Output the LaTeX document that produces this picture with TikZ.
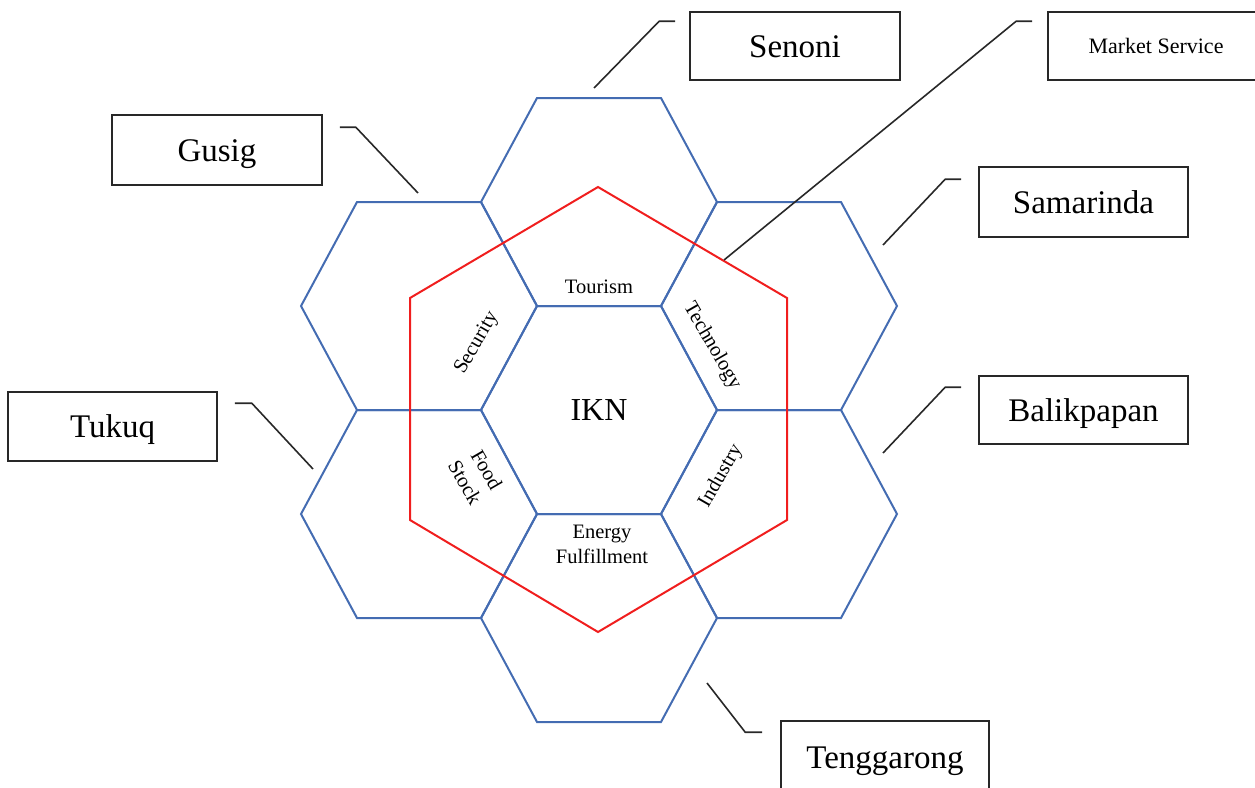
\documentclass[tikz,border=0pt]{standalone}
\usepackage{fontspec}
\setmainfont{Liberation Serif}
\definecolor{hexblue}{RGB}{68,108,178}
\definecolor{hexred}{RGB}{240,30,30}
\definecolor{boxline}{RGB}{40,40,40}
\begin{document}
\begin{tikzpicture}[x=1pt,y=-1pt,
  hexline/.style={draw=hexblue, line width=2pt, line join=miter},
  redline/.style={draw=hexred, line width=2pt, line join=miter},
  placebox/.style={draw=boxline, line width=1.6pt, inner sep=0pt, minimum height=69pt,
    text height=22pt, text depth=0pt, font=\fontsize{33}{40}\selectfont},
  leader/.style={draw=boxline, line width=1.6pt},
  sector/.style={inner sep=0pt, align=center, font=\fontsize{20.5}{25}\selectfont}
]
\useasboundingbox (0,0) rectangle (1255,787);
\begin{scope}
\clip (0,0) rectangle (1255,787);

% honeycomb
\foreach \cx/\cy in {599/410, 599/202, 599/618, 779/306, 779/514, 419/306, 419/514}
  \draw[hexline] (\cx-118,\cy) -- (\cx-62,\cy-104) -- (\cx+62,\cy-104) -- (\cx+118,\cy)
    -- (\cx+62,\cy+104) -- (\cx-62,\cy+104) -- cycle;

% red hexagon
\draw[redline] (598,187) -- (787,298) -- (787,520) -- (598,632) -- (410,520) -- (410,298) -- cycle;

% centre and sector labels
\node[font=\fontsize{32}{38}\selectfont, inner sep=0pt] (ikn) at (599,410) {IKN};
\node[sector] (tourism) at (599,287) {Tourism};
\node[sector, rotate=-60] (technology) at (712,346) {Technology};
\node[sector, rotate=60] (industry) at (721,476) {Industry};
\node[sector] (energy) at (602,544) {Energy\\Fulfillment};
\node[sector, rotate=-60] (food) at (476,476) {Food\\Stock};
\node[sector, rotate=60] (security) at (477,343) {Security};

% place boxes
\node[placebox, minimum width=210pt, minimum height=68pt] (senoni) at (795,46) {Senoni};
\node[placebox, minimum width=216pt, minimum height=68pt, text height=14.5pt, font=\fontsize{22}{26}\selectfont] (market) at (1156,46) {Market Service};
\node[placebox, minimum width=210pt, minimum height=70pt] (gusig) at (217,150) {Gusig};
\node[placebox, minimum width=209pt, minimum height=70pt] (samarinda) at (1083.5,202) {Samarinda};
\node[placebox, minimum width=209pt, minimum height=68pt] (balikpapan) at (1083.5,410) {Balikpapan};
\node[placebox, minimum width=209pt, minimum height=69pt] (tukuq) at (112.5,426.5) {Tukuq};
\node[placebox, minimum width=208pt, minimum height=72pt] (tenggarong) at (885,757) {Tenggarong};

% leader lines
\coordinate (senS) at (594,88);
\coordinate (marS) at (724,260);
\coordinate (gusS) at (418,193);
\coordinate (samS) at (883,245);
\coordinate (balS) at (883,453);
\coordinate (tukS) at (313,469);
\coordinate (tenS) at (707,683);

\draw[leader] (senS) -- ([xshift=-30pt,yshift=-10pt]senoni.north west) -- ([xshift=-14pt,yshift=-10pt]senoni.north west);
\draw[leader] (marS) -- ([xshift=-31pt,yshift=-10pt]market.north west) -- ([xshift=-15pt,yshift=-10pt]market.north west);
\draw[leader] (gusS) -- ([xshift=33pt,yshift=-13pt]gusig.north east) -- ([xshift=17pt,yshift=-13pt]gusig.north east);
\draw[leader] (samS) -- ([xshift=-33pt,yshift=-13pt]samarinda.north west) -- ([xshift=-17pt,yshift=-13pt]samarinda.north west);
\draw[leader] (balS) -- ([xshift=-33pt,yshift=-12pt]balikpapan.north west) -- ([xshift=-17pt,yshift=-12pt]balikpapan.north west);
\draw[leader] (tukS) -- ([xshift=34pt,yshift=-12pt]tukuq.north east) -- ([xshift=17pt,yshift=-12pt]tukuq.north east);
\draw[leader] (tenS) -- ([xshift=-35pt,yshift=-12pt]tenggarong.north west) -- ([xshift=-18pt,yshift=-12pt]tenggarong.north west);
\end{scope}
\end{tikzpicture}
\end{document}
